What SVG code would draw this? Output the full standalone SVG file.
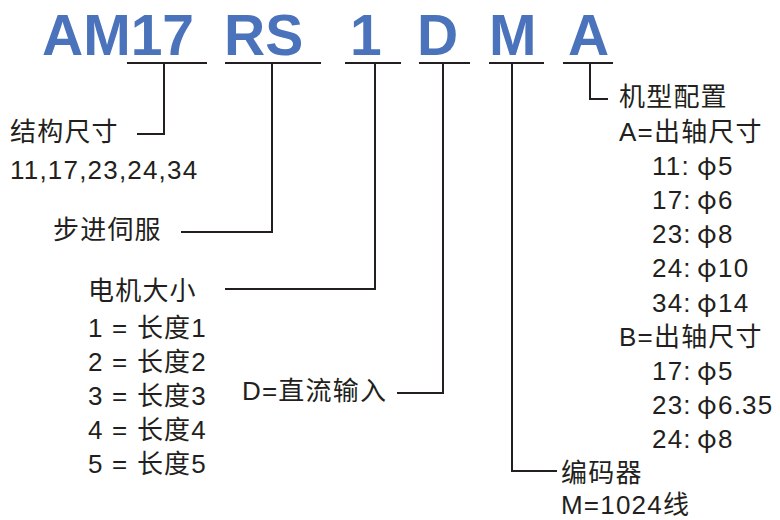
<svg xmlns="http://www.w3.org/2000/svg" width="780" height="520" viewBox="0 0 780 520">
<style>
.t{font-family:"Liberation Sans","Noto Sans CJK SC",sans-serif;font-size:26px;fill:#231f20;letter-spacing:1.2px}
.p{font-family:"Noto Sans CJK SC",sans-serif;letter-spacing:0}
.h{font-family:"Liberation Sans",Arial,sans-serif;font-weight:bold;font-size:57px;fill:#4a73bb}
.c{fill:none;stroke:#231f20;stroke-width:2}
</style>
<rect width="780" height="520" fill="#ffffff"/>
<g id="code">
<text class="h" x="42" y="55">AM17</text>
<text class="h" x="224" y="55">RS</text>
<text class="h" x="350" y="55">1</text>
<text class="h" x="417" y="55">D</text>
<text class="h" x="489" y="55">M</text>
<text class="h" x="568" y="55">A</text>
</g>
<g id="connectors">
<path class="c" d="M127,63H207M164,63V134H137"/>
<path class="c" d="M225,63H321M272,63V232H181"/>
<path class="c" d="M345,63H401M375,63V289H225"/>
<path class="c" d="M419,63H470M443,63V393H397"/>
<path class="c" d="M489,63H544M512,63V471H557"/>
<path class="c" d="M563,63H613M590,63V99H608"/>
</g>
<g id="frame-size">
<text class="t" x="10" y="141">结构尺寸</text>
<text class="t" x="10" y="179">11,17,23,24,34</text>
</g>
<g id="stepper-servo">
<text class="t" x="53" y="239">步进伺服</text>
</g>
<g id="motor-size">
<text class="t" x="88" y="300">电机大小</text>
<text class="t" x="88" y="337">1 = 长度1</text>
<text class="t" x="88" y="371">2 = 长度2</text>
<text class="t" x="88" y="405">3 = 长度3</text>
<text class="t" x="88" y="439">4 = 长度4</text>
<text class="t" x="88" y="473">5 = 长度5</text>
</g>
<g id="dc-input">
<text class="t" x="242" y="400">D=直流输入</text>
</g>
<g id="encoder">
<text class="t" x="561" y="482">编码器</text>
<text class="t" x="561" y="514">M=1024线</text>
</g>
<g id="config">
<text class="t" x="619" y="106">机型配置</text>
<text class="t" x="619" y="141">A=出轴尺寸</text>
<text class="t" x="652" y="175">11:<tspan class="p" x="697">φ</tspan><tspan x="718">5</tspan></text>
<text class="t" x="652" y="209">17:<tspan class="p" x="697">φ</tspan><tspan x="718">6</tspan></text>
<text class="t" x="652" y="243">23:<tspan class="p" x="697">φ</tspan><tspan x="718">8</tspan></text>
<text class="t" x="652" y="277">24:<tspan class="p" x="697">φ</tspan><tspan x="718">10</tspan></text>
<text class="t" x="652" y="312">34:<tspan class="p" x="697">φ</tspan><tspan x="718">14</tspan></text>
<text class="t" x="619" y="346">B=出轴尺寸</text>
<text class="t" x="652" y="380">17:<tspan class="p" x="697">φ</tspan><tspan x="718">5</tspan></text>
<text class="t" x="652" y="414">23:<tspan class="p" x="697">φ</tspan><tspan x="718">6.35</tspan></text>
<text class="t" x="652" y="448">24:<tspan class="p" x="697">φ</tspan><tspan x="718">8</tspan></text>
</g>
</svg>
